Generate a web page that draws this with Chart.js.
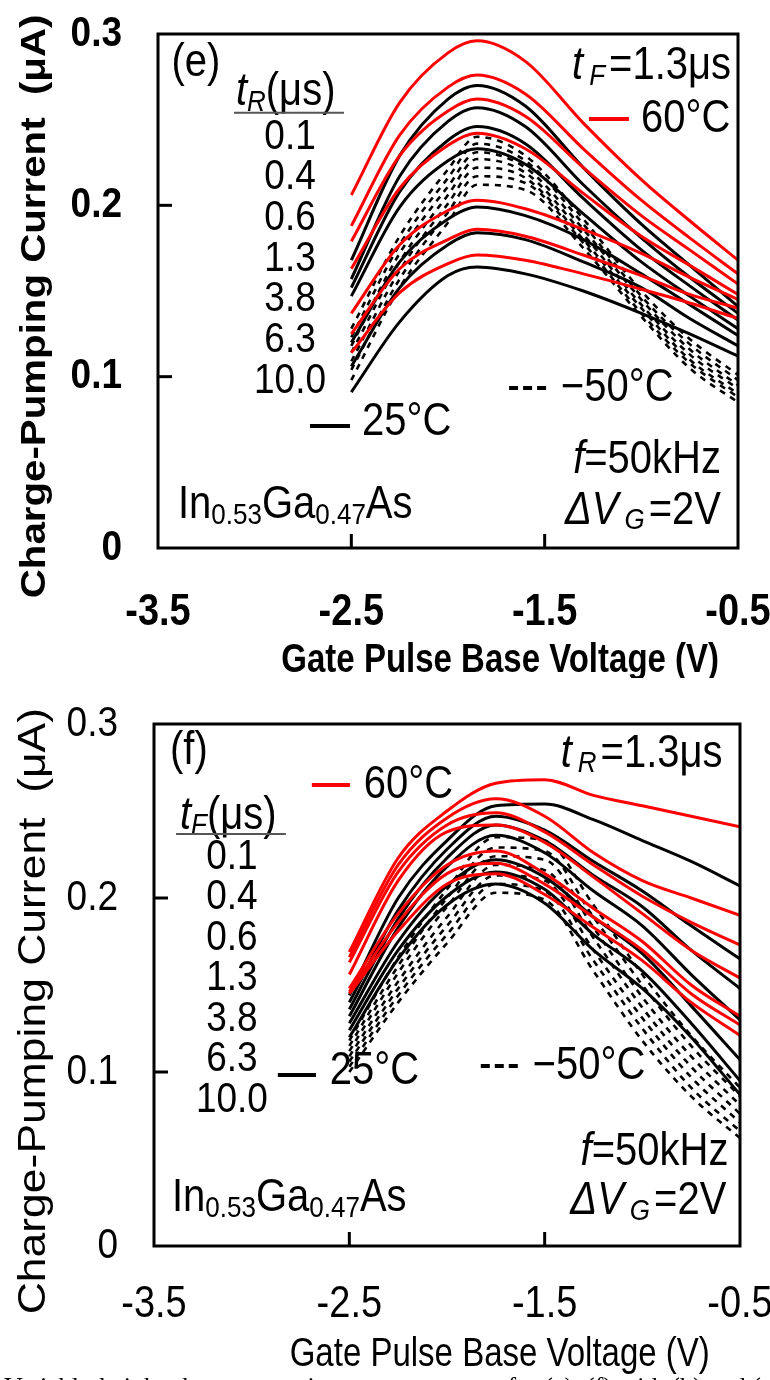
<!DOCTYPE html>
<html>
<head>
<meta charset="utf-8">
<script src="https://cdn.jsdelivr.net/npm/chart.js@4.4.0/dist/chart.umd.min.js"></script>
<style>
  body { margin: 0; background: #fff; }
  canvas { display: block; }
</style>
</head>
<body>
<canvas id="chartE" width="770" height="678"></canvas>
<canvas id="chartF" width="770" height="702"></canvas>
<script>
// pulse times (table labels)
const riseTimes = ['0.1', '0.4', '0.6', '1.3', '3.8', '6.3', '10.0'];
const fallTimes = ['0.1', '0.4', '0.6', '1.3', '3.8', '6.3', '10.0'];

const yTicks = [0, 0.1, 0.2, 0.3];
const yTickLabels = ['0', '0.1', '0.2', '0.3'];
const xTicks = [-3.5, -2.5, -1.5, -0.5];
const xTickLabels = ['-3.5', '-2.5', '-1.5', '-0.5'];

// panel (e): variable rise time, tF = 1.3us
const voltE = [-2.5, -2.25, -2.0, -1.85, -1.6, -1.3, -1.0, -0.75, -0.5];
const e60 = [
    [0.206, 0.260, 0.289, 0.296, 0.284, 0.248, 0.215, 0.191, 0.168],
    [0.188, 0.241, 0.269, 0.276, 0.265, 0.233, 0.203, 0.181, 0.160],
    [0.179, 0.229, 0.255, 0.262, 0.252, 0.222, 0.194, 0.174, 0.154],
    [0.163, 0.210, 0.235, 0.242, 0.233, 0.207, 0.182, 0.165, 0.148],
    [0.137, 0.177, 0.197, 0.203, 0.198, 0.186, 0.172, 0.158, 0.145],
    [0.125, 0.163, 0.180, 0.186, 0.182, 0.171, 0.159, 0.148, 0.140],
    [0.114, 0.149, 0.166, 0.171, 0.168, 0.160, 0.151, 0.143, 0.134]
];
const e25 = [
    [0.168, 0.229, 0.262, 0.270, 0.258, 0.222, 0.189, 0.165, 0.141],
    [0.157, 0.217, 0.249, 0.257, 0.246, 0.212, 0.181, 0.158, 0.137],
    [0.152, 0.208, 0.238, 0.246, 0.236, 0.204, 0.174, 0.153, 0.133],
    [0.147, 0.199, 0.226, 0.233, 0.224, 0.195, 0.167, 0.147, 0.128],
    [0.120, 0.167, 0.192, 0.199, 0.194, 0.180, 0.160, 0.142, 0.124],
    [0.106, 0.152, 0.177, 0.184, 0.180, 0.167, 0.152, 0.134, 0.118],
    [0.091, 0.132, 0.159, 0.164, 0.160, 0.150, 0.137, 0.125, 0.112]
];
const eMinus50 = [
    [0.128, 0.182, 0.221, 0.240, 0.229, 0.192, 0.150, 0.122, 0.101],
    [0.123, 0.177, 0.216, 0.236, 0.226, 0.189, 0.147, 0.119, 0.098],
    [0.118, 0.172, 0.211, 0.231, 0.222, 0.186, 0.145, 0.116, 0.095],
    [0.114, 0.167, 0.206, 0.227, 0.219, 0.183, 0.142, 0.113, 0.093],
    [0.109, 0.162, 0.201, 0.222, 0.216, 0.180, 0.140, 0.110, 0.090],
    [0.104, 0.157, 0.196, 0.217, 0.213, 0.178, 0.137, 0.108, 0.088],
    [0.098, 0.152, 0.190, 0.212, 0.209, 0.175, 0.135, 0.105, 0.085]
];

// panel (f): variable fall time, tR = 1.3us
const voltF = [-2.5, -2.25, -2.0, -1.75, -1.5, -1.25, -1.0, -0.75, -0.5];
const f60 = [
    [0.169, 0.223, 0.250, 0.266, 0.268, 0.259, 0.253, 0.247, 0.241],
    [0.166, 0.219, 0.246, 0.257, 0.247, 0.226, 0.210, 0.200, 0.190],
    [0.163, 0.215, 0.242, 0.249, 0.238, 0.219, 0.201, 0.186, 0.173],
    [0.156, 0.210, 0.238, 0.242, 0.232, 0.212, 0.191, 0.170, 0.154],
    [0.148, 0.191, 0.219, 0.227, 0.214, 0.194, 0.175, 0.150, 0.132],
    [0.146, 0.186, 0.214, 0.220, 0.208, 0.189, 0.170, 0.145, 0.127],
    [0.145, 0.181, 0.208, 0.214, 0.202, 0.183, 0.164, 0.140, 0.121]
];
const f25 = [
    [0.144, 0.200, 0.233, 0.253, 0.254, 0.245, 0.233, 0.221, 0.207],
    [0.140, 0.193, 0.228, 0.247, 0.239, 0.221, 0.204, 0.184, 0.165],
    [0.136, 0.188, 0.223, 0.242, 0.233, 0.213, 0.195, 0.170, 0.148],
    [0.132, 0.183, 0.218, 0.236, 0.226, 0.204, 0.184, 0.156, 0.130],
    [0.128, 0.175, 0.207, 0.222, 0.212, 0.189, 0.168, 0.138, 0.107],
    [0.124, 0.170, 0.201, 0.215, 0.205, 0.179, 0.158, 0.128, 0.095],
    [0.120, 0.165, 0.196, 0.208, 0.197, 0.170, 0.148, 0.120, 0.087]
];
const fMinus50 = [
    [0.118, 0.166, 0.205, 0.235, 0.233, 0.196, 0.156, 0.121, 0.091],
    [0.115, 0.161, 0.200, 0.229, 0.227, 0.189, 0.150, 0.115, 0.086],
    [0.112, 0.157, 0.195, 0.224, 0.222, 0.183, 0.143, 0.109, 0.081],
    [0.109, 0.152, 0.189, 0.219, 0.216, 0.177, 0.137, 0.103, 0.076],
    [0.106, 0.148, 0.184, 0.213, 0.210, 0.170, 0.131, 0.097, 0.071],
    [0.103, 0.144, 0.179, 0.208, 0.204, 0.164, 0.125, 0.091, 0.066],
    [0.100, 0.140, 0.174, 0.203, 0.199, 0.158, 0.118, 0.086, 0.062]
];

const RED = '#ff0000';
const SY = 1.15;
const FONT = '"Liberation Sans", Arial, sans-serif';

function fontOf(r) {
    return (r.italic ? 'italic ' : '') + (r.bold ? 'bold ' : '') + r.size + 'px ' + FONT;
}

function run(t, size, opts) {
    return Object.assign({ t: t, size: size }, opts || {});
}

function drawRuns(ctx, runs, x, y, align, sy) {
    const stretch = sy || SY;
    let w = 0;
    runs.forEach(r => {
        ctx.font = fontOf(r);
        r.w = ctx.measureText(r.t).width + (r.gap || 0);
        w += r.w;
    });
    const sx = align === 'right' ? x - w : align === 'center' ? x - w / 2 : x;
    ctx.save();
    ctx.translate(sx, y);
    ctx.scale(1, stretch);
    ctx.textAlign = 'left';
    ctx.textBaseline = 'middle';
    let px = 0;
    runs.forEach(r => {
        ctx.font = fontOf(r);
        ctx.fillStyle = r.color || '#000';
        ctx.fillText(r.t, px, (r.dy || 0) / stretch);
        px += r.w;
    });
    ctx.restore();
}

function seg(ctx, x1, y1, x2, y2, color, width, dash) {
    ctx.save();
    ctx.strokeStyle = color;
    ctx.lineWidth = width;
    ctx.setLineDash(dash || []);
    ctx.beginPath();
    ctx.moveTo(x1, y1);
    ctx.lineTo(x2, y2);
    ctx.stroke();
    ctx.restore();
}

function drawFrame(chart, p) {
    const ctx = chart.ctx;
    const a = chart.chartArea;
    const xs = chart.scales.x, ys = chart.scales.y;
    ctx.save();
    ctx.strokeStyle = '#000';
    ctx.lineWidth = 3;
    ctx.strokeRect(a.left, a.top, a.right - a.left, a.bottom - a.top);
    ctx.restore();

    yTicks.forEach((v, i) => {
        const py = ys.getPixelForValue(v);
        if (v > 0 && v < 0.3) seg(ctx, a.left, py, a.left + 14, py, '#000', 3);
        drawRuns(ctx, [run(yTickLabels[i], 37, { bold: p.bold })], a.left - 36, py, 'right');
    });
    xTicks.forEach((v, i) => {
        const px = xs.getPixelForValue(v);
        if (v > -3.5 && v < -0.5) seg(ctx, px, a.bottom, px, a.bottom - 14, '#000', 3);
        drawRuns(ctx, [run(xTickLabels[i], 38, { bold: p.bold })], px, a.bottom + p.xLabelGap, 'center');
    });

    // axis titles
    drawRuns(ctx, [run('Gate Pulse Base Voltage (V)', 33, { bold: p.bold })],
        xs.getPixelForValue(-1.73), a.bottom + p.xTitleGap, 'center', 1.22);

    ctx.save();
    ctx.translate(35, ys.getPixelForValue(p.yTitleAt));
    ctx.rotate(-Math.PI / 2);
    ctx.scale(p.yStretch, 1);
    ctx.font = (p.bold ? 'bold ' : '') + p.yTitleSize + 'px ' + FONT;
    ctx.fillStyle = '#000';
    ctx.textAlign = 'center';
    ctx.textBaseline = 'middle';
    ctx.fillText('Charge-Pumping Current  (\u03bcA)', 0, 0);
    ctx.restore();
}

function drawNotes(chart, n) {
    const ctx = chart.ctx;
    const X = v => chart.scales.x.getPixelForValue(v);
    const Y = v => chart.scales.y.getPixelForValue(v);

    drawRuns(ctx, [run(n.tag, 40)], X(n.tagAt[0]), Y(n.tagAt[1]), 'left');

    drawRuns(ctx, [run('t', 40, { italic: true, gap: 6 }), run(n.fixedSub, 26, { italic: true, dy: 10, gap: 4 }),
        run('=1.3\u03bcs', 40)], X(n.fixedAt[0]), Y(n.fixedAt[1]), 'right');

    // table header and values
    drawRuns(ctx, [run('t', 40, { italic: true }), run(n.headSub, 26, { italic: true, dy: 10 }), run('(\u03bcs)', 40)],
        X(n.headAt[0]), Y(n.headAt[1]), 'left');
    seg(ctx, X(n.lineAt[0]), Y(n.lineAt[2]), X(n.lineAt[1]), Y(n.lineAt[2]), '#555', 2);
    const top = Y(n.rowTop);
    n.rows.forEach((s, i) => {
        drawRuns(ctx, [run(s, 37)], X(n.rowX), top + i * n.rowStep, 'center');
    });

    // temperature keys
    seg(ctx, X(n.hotKey[0]), Y(n.hotKey[2]), X(n.hotKey[1]), Y(n.hotKey[2]), RED, 4);
    drawRuns(ctx, [run('60\u00b0C', 40)], X(n.hotKey[3]), Y(n.hotKey[2]), 'left');
    seg(ctx, X(n.roomKey[0]), Y(n.roomKey[2]), X(n.roomKey[1]), Y(n.roomKey[2]), '#000', 4);
    drawRuns(ctx, [run('25\u00b0C', 40)], X(n.roomKey[3]), Y(n.roomKey[2]) - 4, 'left');
    seg(ctx, X(n.coldKey[0]), Y(n.coldKey[2]), X(n.coldKey[1]), Y(n.coldKey[2]), '#000', 4, [9, 5]);
    drawRuns(ctx, [run('\u221250\u00b0C', 40)], X(n.coldKey[3]), Y(n.coldKey[2]), 'left');

    drawRuns(ctx, [run('f', 40, { italic: true }), run('=50kHz', 40)], X(n.freqAt[0]), Y(n.freqAt[1]), 'right');
    drawRuns(ctx, [run('\u0394V', 40, { italic: true, gap: 6 }), run('G', 26, { italic: true, dy: 10, gap: 4 }), run('=2V', 40)],
        X(n.ampAt[0]), Y(n.ampAt[1]), 'right');
    drawRuns(ctx, [run('In', 40), run('0.53', 26, { dy: 11 }), run('Ga', 40), run('0.47', 26, { dy: 11 }), run('As', 40)],
        X(n.matAt[0]), Y(n.matAt[1]), 'left');
}

function makeSets(volts, hot, room, cold, names) {
    const pts = vals => vals.map((v, i) => ({ x: volts[i], y: v }));
    const sets = [];
    hot.forEach((vals, i) => sets.push({ label: '60\u00b0C ' + names[i], data: pts(vals), borderColor: RED, borderWidth: 3, order: 1 }));
    room.forEach((vals, i) => sets.push({ label: '25\u00b0C ' + names[i], data: pts(vals), borderColor: '#000', borderWidth: 3, order: 2 }));
    cold.forEach((vals, i) => sets.push({ label: '-50\u00b0C ' + names[i], data: pts(vals), borderColor: '#000', borderWidth: 2.6, borderDash: [6, 6], order: 3 }));
    return sets;
}

function makeChart(id, sets, padding, frameOpts, notes, extra) {
    return new Chart(document.getElementById(id), {
        type: 'line',
        data: { datasets: sets },
        options: {
            responsive: false,
            animation: false,
            layout: { padding: padding },
            elements: { point: { radius: 0 }, line: { cubicInterpolationMode: 'monotone', fill: false } },
            plugins: { legend: { display: false }, tooltip: { enabled: false } },
            scales: {
                x: { type: 'linear', min: -3.5, max: -0.5, display: false },
                y: { type: 'linear', min: 0, max: 0.3, display: false }
            }
        },
        plugins: [{
            id: 'decor_' + id,
            afterDraw(chart) {
                drawFrame(chart, frameOpts);
                drawNotes(chart, notes);
                if (extra) extra(chart);
            }
        }]
    });
}

makeChart('chartE', makeSets(voltE, e60, e25, eMinus50, riseTimes),
    { left: 158, right: 32, top: 34, bottom: 130 },
    { bold: true, xLabelGap: 65, xTitleGap: 113, yTitleAt: 0.141, yTitleSize: 35, yStretch: 1.15 },
    {
        tag: '(e)', tagAt: [-3.43, 0.283],
        fixedSub: 'F', fixedAt: [-0.536, 0.281],
        headSub: 'R', headAt: [-3.097, 0.266], lineAt: [-3.107, -2.538, 0.254],
        rows: riseTimes, rowX: -2.817, rowTop: 0.240, rowStep: 40.7,
        hotKey: [-1.271, -1.064, 0.2504, -1.002],
        roomKey: [-2.714, -2.507, 0.0712, -2.445],
        coldKey: [-1.684, -1.488, 0.0934, -1.416],
        freqAt: [-0.588, 0.0514], ampAt: [-0.588, 0.0215], matAt: [-3.397, 0.0251]
    });

makeChart('chartF', makeSets(voltF, f60, f25, fMinus50, fallTimes),
    { left: 154, right: 30, top: 46, bottom: 134 },
    { bold: false, xLabelGap: 59, xTitleGap: 109, yTitleAt: 0.135, yTitleSize: 38, yStretch: 1.17 },
    {
        tag: '(f)', tagAt: [-3.418, 0.2845],
        fixedSub: 'R', fixedAt: [-0.589, 0.2828],
        headSub: 'F', headAt: [-3.367, 0.2471], lineAt: [-3.387, -2.825, 0.2368],
        rows: fallTimes, rowX: -3.101, rowTop: 0.2236, rowStep: 40.5,
        hotKey: [-2.692, -2.497, 0.265, -2.426],
        roomKey: [-2.866, -2.671, 0.0983, -2.600],
        coldKey: [-1.827, -1.633, 0.1034, -1.561],
        freqAt: [-0.559, 0.054], ampAt: [-0.57, 0.0255], matAt: [-3.408, 0.0276]
    },
    chart => {
        // caption line of the page, cut off at the bottom edge
        const ctx = chart.ctx;
        ctx.save();
        ctx.font = '26px "Liberation Serif", "DejaVu Serif", serif';
        ctx.fillStyle = '#000';
        ctx.textBaseline = 'alphabetic';
        ctx.fillText('Variable-height charge-pumping current spectra for (a)\u2013(f) with (b) and (e) of...', 4, chart.height + 15);
        ctx.restore();
    });
</script>
</body>
</html>
